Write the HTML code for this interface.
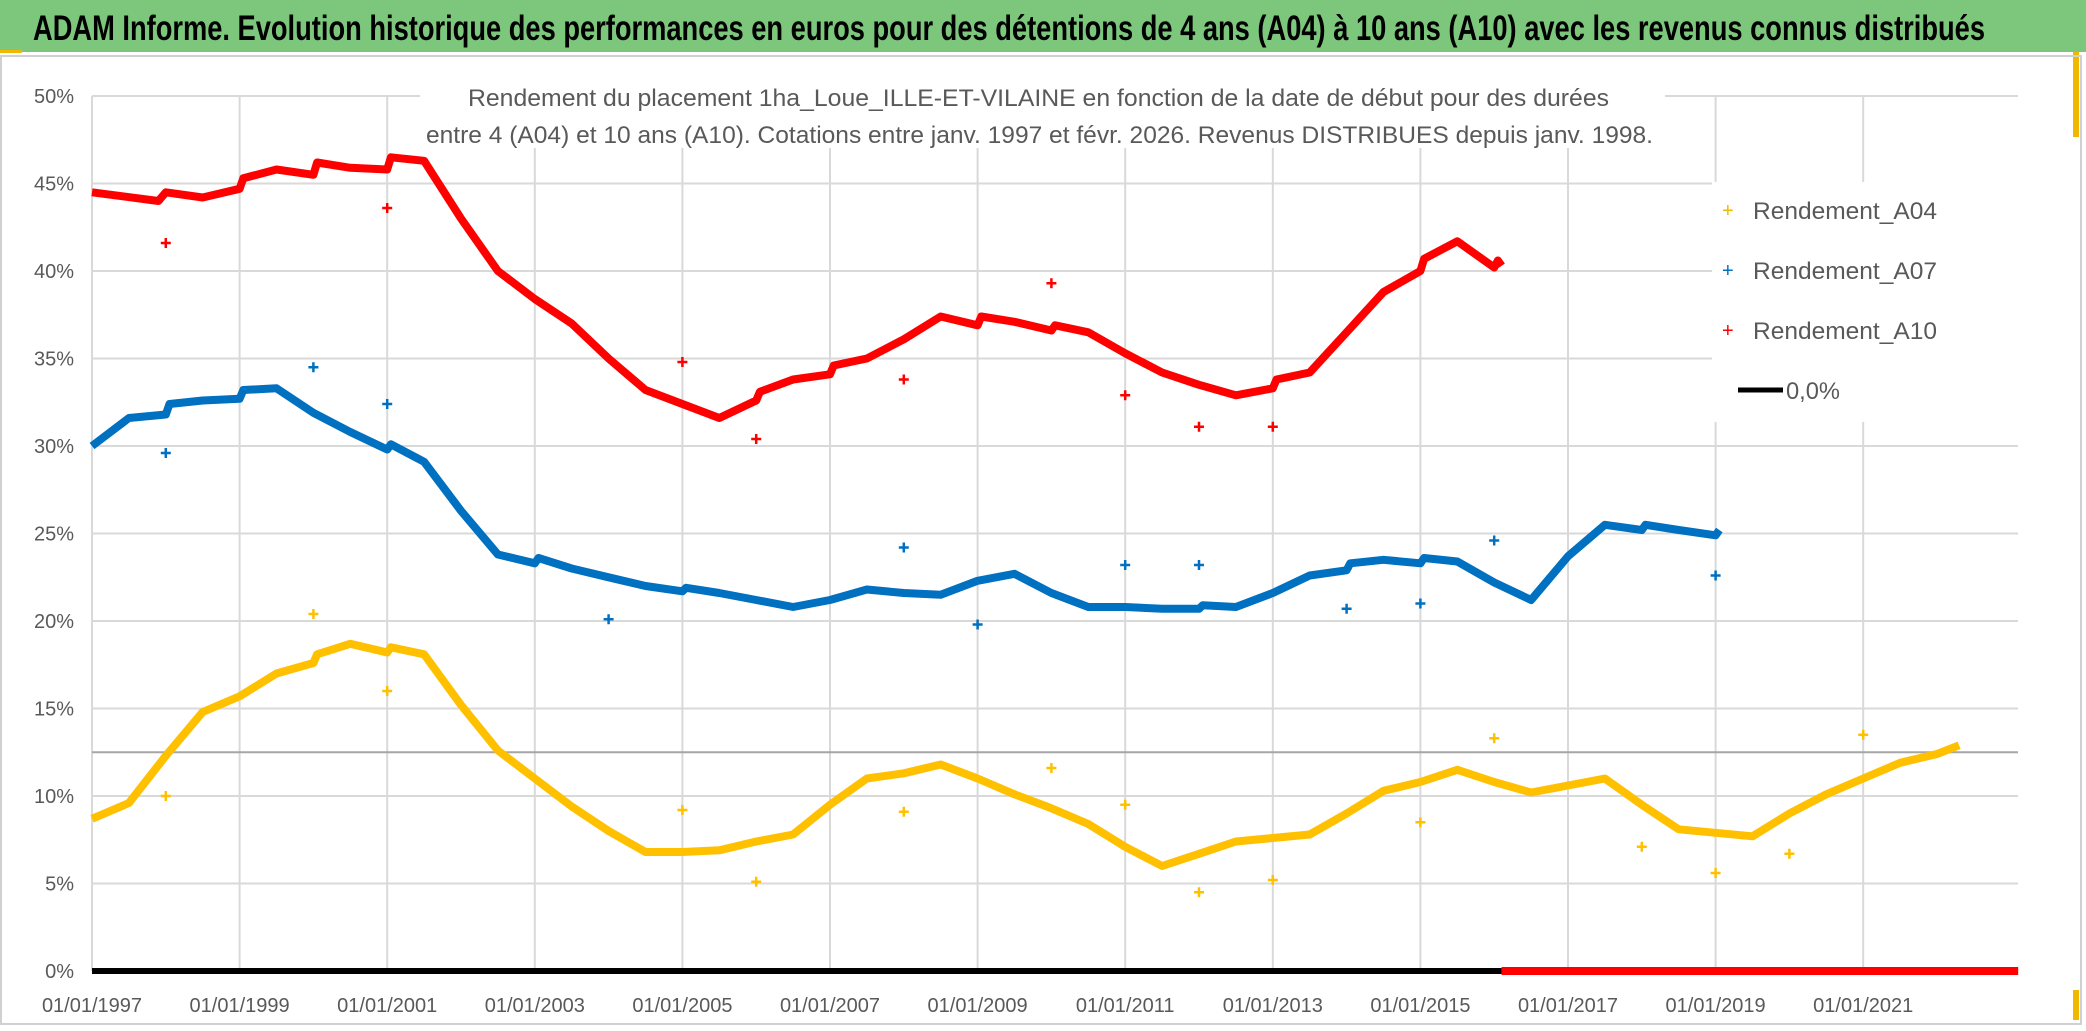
<!DOCTYPE html>
<html><head><meta charset="utf-8">
<style>
html,body{margin:0;padding:0;background:#fff;}
svg{display:block;font-family:"Liberation Sans",sans-serif;}
</style></head>
<body>
<svg id="chart" width="2086" height="1031" viewBox="0 0 2086 1031">
<rect x="0" y="0" width="2086" height="1031" fill="#fff"/>
<rect x="0" y="0" width="2086" height="52" fill="#7cc77c"/>
<rect x="0" y="50" width="22" height="3" fill="#f2b800"/>
<rect x="2073" y="52" width="6" height="85" fill="#f2b800"/>
<rect x="2073" y="990" width="6" height="30" fill="#f2b800"/>
<rect x="1" y="56" width="2080" height="968" fill="none" stroke="#d0d0d0" stroke-width="2"/>
<text x="33" y="40" font-size="35" font-weight="bold" fill="#000" textLength="1952" lengthAdjust="spacingAndGlyphs">ADAM Informe. Evolution historique des performances en euros pour des détentions de 4 ans (A04) à 10 ans (A10) avec les revenus connus distribués</text>
<g id="grid"></g>
<g id="plot"></g>
<rect x="420" y="78" width="1245" height="70" fill="#fff"/>
<text x="468" y="106" font-size="24" fill="#595959" textLength="1141" lengthAdjust="spacingAndGlyphs">Rendement du placement 1ha_Loue_ILLE-ET-VILAINE en fonction de la date de début pour des durées</text>
<text x="426" y="143" font-size="24" fill="#595959" textLength="1227" lengthAdjust="spacingAndGlyphs">entre 4 (A04) et 10 ans (A10). Cotations entre janv. 1997 et févr. 2026. Revenus DISTRIBUES depuis janv. 1998.</text>
<g>
<rect x="1712" y="182" width="306" height="240" fill="#fff"/>
<g><text x="1722" y="217" font-size="20" fill="#f2b800">+</text><text x="1753" y="219" font-size="24" fill="#595959" textLength="184" lengthAdjust="spacingAndGlyphs">Rendement_A04</text></g>
<g><text x="1722" y="277" font-size="20" fill="#0070c0">+</text><text x="1753" y="279" font-size="24" fill="#595959" textLength="184" lengthAdjust="spacingAndGlyphs">Rendement_A07</text></g>
<g><text x="1722" y="337" font-size="20" fill="#ff0000">+</text><text x="1753" y="339" font-size="24" fill="#595959" textLength="184" lengthAdjust="spacingAndGlyphs">Rendement_A10</text></g>
<g><line x1="1738" y1="390" x2="1783" y2="390" stroke="#000" stroke-width="5"/><text x="1786" y="399" font-size="24" fill="#595959" textLength="54" lengthAdjust="spacingAndGlyphs">0,0%</text></g>
</g>
</svg>
<script>
const yTicks=[0,5,10,15,20,25,30,35,40,45,50];
const yTickLabels=["0%","5%","10%","15%","20%","25%","30%","35%","40%","45%","50%"];
const xTicks=[1997,1999,2001,2003,2005,2007,2009,2011,2013,2015,2017,2019,2021];
const xTickLabels=["01/01/1997","01/01/1999","01/01/2001","01/01/2003","01/01/2005","01/01/2007","01/01/2009","01/01/2011","01/01/2013","01/01/2015","01/01/2017","01/01/2019","01/01/2021"];
const a10Dates=[1997.0,1997.9,1998.0,1998.5,1999.0,1999.05,1999.5,2000.0,2000.05,2000.5,2001.0,2001.05,2001.5,2002.0,2002.5,2003.0,2003.5,2004.0,2004.5,2005.0,2005.5,2006.0,2006.05,2006.5,2007.0,2007.05,2007.5,2008.0,2008.5,2009.0,2009.05,2009.5,2010.0,2010.05,2010.5,2011.0,2011.5,2012.0,2012.5,2013.0,2013.05,2013.5,2014.0,2014.5,2015.0,2015.05,2015.5,2016.0,2016.05,2016.1];
const a10Values=[44.5,44.0,44.5,44.2,44.7,45.3,45.8,45.5,46.2,45.9,45.8,46.5,46.3,43.0,40.0,38.4,37.0,35.0,33.2,32.4,31.6,32.6,33.1,33.8,34.1,34.6,35.0,36.1,37.4,36.9,37.4,37.1,36.6,36.9,36.5,35.3,34.2,33.5,32.9,33.3,33.8,34.2,36.5,38.8,40.0,40.7,41.7,40.2,40.6,40.3];
const a10OutDates=[1998.0,2001.0,2005.0,2006.0,2008.0,2010.0,2011.0,2012.0,2013.0];
const a10OutValues=[41.6,43.6,34.8,30.4,33.8,39.3,32.9,31.1,31.1];
const a07Dates=[1997.0,1997.5,1998.0,1998.05,1998.5,1999.0,1999.05,1999.5,2000.0,2000.5,2001.0,2001.05,2001.5,2002.0,2002.5,2003.0,2003.05,2003.5,2004.0,2004.5,2005.0,2005.05,2005.5,2006.0,2006.5,2007.0,2007.5,2008.0,2008.5,2009.0,2009.5,2010.0,2010.5,2011.0,2011.5,2012.0,2012.05,2012.5,2013.0,2013.5,2014.0,2014.05,2014.5,2015.0,2015.05,2015.5,2016.0,2016.5,2017.0,2017.5,2018.0,2018.05,2018.5,2019.0,2019.05];
const a07Values=[30.0,31.6,31.8,32.4,32.6,32.7,33.2,33.3,31.9,30.8,29.8,30.1,29.1,26.3,23.8,23.3,23.6,23.0,22.5,22.0,21.7,21.9,21.6,21.2,20.8,21.2,21.8,21.6,21.5,22.3,22.7,21.6,20.8,20.8,20.7,20.7,20.9,20.8,21.6,22.6,22.9,23.3,23.5,23.3,23.6,23.4,22.2,21.2,23.7,25.5,25.2,25.5,25.2,24.9,25.2];
const a07OutDates=[1998.0,2000.0,2001.0,2004.0,2008.0,2009.0,2011.0,2012.0,2014.0,2015.0,2016.0,2019.0];
const a07OutValues=[29.6,34.5,32.4,20.1,24.2,19.8,23.2,23.2,20.7,21.0,24.6,22.6];
const a04Dates=[1997.0,1997.5,1998.0,1998.5,1999.0,1999.5,2000.0,2000.05,2000.5,2001.0,2001.05,2001.5,2002.0,2002.5,2003.0,2003.5,2004.0,2004.5,2005.0,2005.5,2006.0,2006.5,2007.0,2007.5,2008.0,2008.5,2009.0,2009.5,2010.0,2010.5,2011.0,2011.5,2012.0,2012.5,2013.0,2013.5,2014.0,2014.5,2015.0,2015.5,2016.0,2016.5,2017.0,2017.5,2018.0,2018.5,2019.0,2019.5,2020.0,2020.5,2021.0,2021.5,2022.0,2022.3];
const a04Values=[8.7,9.6,12.3,14.8,15.7,17.0,17.6,18.1,18.7,18.2,18.5,18.1,15.2,12.6,11.0,9.4,8.0,6.8,6.8,6.9,7.4,7.8,9.5,11.0,11.3,11.8,11.0,10.1,9.3,8.4,7.1,6.0,6.7,7.4,7.6,7.8,9.0,10.3,10.8,11.5,10.8,10.2,10.6,11.0,9.5,8.1,7.9,7.7,9.0,10.1,11.0,11.9,12.4,12.9];
const a04OutDates=[1998.0,2000.0,2001.0,2005.0,2006.0,2008.0,2010.0,2011.0,2012.0,2013.0,2015.0,2016.0,2018.0,2019.0,2020.0,2021.0];
const a04OutValues=[10.0,20.4,16.0,9.2,5.1,9.1,11.6,9.5,4.5,5.2,8.5,13.3,7.1,5.6,6.7,13.5];
const zeroBlackRange=[1997.0,2016.1];
const zeroRedRange=[2016.1,2023.1];
const refLineValue=[12.5];

const X0=92,PXY=73.8,Y0=971,PXV=17.5,XR=2018;
const xs=d=>X0+(d-1997)*PXY;
const ys=v=>Y0-v*PXV;
const NS="http://www.w3.org/2000/svg";
function mk(tag,attrs,parent){const e=document.createElementNS(NS,tag);for(const k in attrs)e.setAttribute(k,attrs[k]);parent.appendChild(e);return e;}
const grid=document.getElementById('grid'),plot=document.getElementById('plot');
yTicks.forEach((t,i)=>{
  const l=mk('line',{x1:X0,x2:XR,y1:ys(t),y2:ys(t),stroke:'#d9d9d9','stroke-width':2},grid);
  
  
  const tx=mk('text',{x:74,y:ys(t)+7,'font-size':20,fill:'#595959','text-anchor':'end'},grid);
  tx.textContent=yTickLabels[i];
  
  
});
xTicks.forEach((t,i)=>{
  const l=mk('line',{x1:xs(t),x2:xs(t),y1:ys(50),y2:ys(0),stroke:'#d9d9d9','stroke-width':2},grid);
  
  
  const tx=mk('text',{x:xs(t),y:1012,'font-size':20,fill:'#595959','text-anchor':'middle'},grid);
  tx.textContent=xTickLabels[i];
  
  
});
const ref=mk('line',{x1:X0,x2:XR,y1:ys(refLineValue[0]),y2:ys(refLineValue[0]),stroke:'#a6a6a6','stroke-width':2},grid);


const zb=mk('line',{x1:xs(zeroBlackRange[0]),x2:xs(zeroBlackRange[1]),y1:ys(0),y2:ys(0),stroke:'#000','stroke-width':6},plot);


const zr=mk('line',{x1:xs(zeroRedRange[0]),x2:xs(zeroRedRange[1]),y1:ys(0),y2:ys(0),stroke:'#ff0000','stroke-width':8},plot);


function series(dates,vals,od,ov,color,name){
  const pts=dates.map((d,i)=>xs(d).toFixed(1)+','+ys(vals[i]).toFixed(1)).join(' ');
  const pl=mk('polyline',{points:pts,fill:'none',stroke:color,'stroke-width':8,'stroke-linejoin':'round'},plot);
  
  
  od.forEach((d,i)=>{
    const x=xs(d),y=ys(ov[i]);
    const p=mk('path',{d:`M${x-5},${y}H${x+5}M${x},${y-5}V${y+5}`,stroke:color,'stroke-width':2.5},plot);
    
    
  });
}
series(a04Dates,a04Values,a04OutDates,a04OutValues,'#ffc000','a04');
series(a07Dates,a07Values,a07OutDates,a07OutValues,'#0070c0','a07');
series(a10Dates,a10Values,a10OutDates,a10OutValues,'#ff0000','a10');
</script>
</body></html>
